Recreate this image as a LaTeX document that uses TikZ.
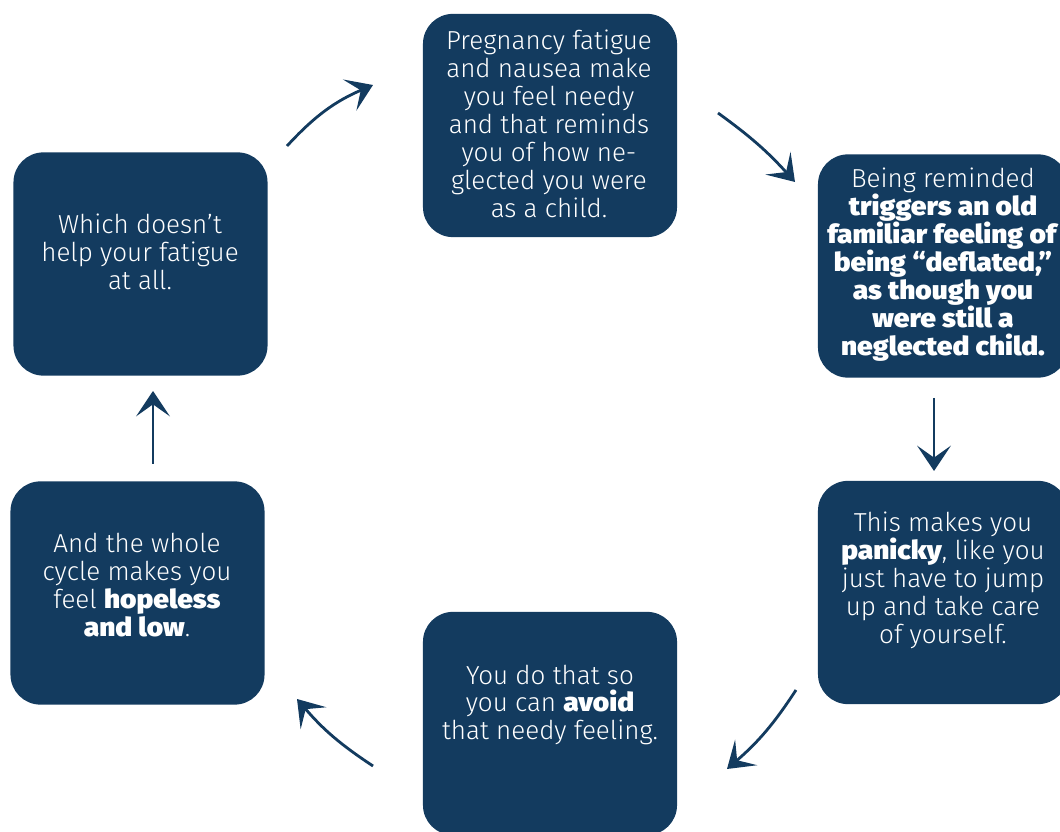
\documentclass[tikz,border=0pt]{standalone}
\usepackage{fontspec}
\setmainfont{Fira Sans}[UprightFont=* Light, BoldFont=* Black,
  BoldFeatures={FakeStretch=1.08}]
\usepackage{xcolor}
\usetikzlibrary{arrows.meta, positioning}

\definecolor{navy}{RGB}{19,59,95}

\begin{document}
\begin{tikzpicture}[
  x=0.025cm, y=-0.025cm,
  card/.style={rectangle, rounded corners=0.75cm, fill=navy,
    minimum width=6.35cm, minimum height=5.58cm, inner sep=0pt},
  txt/.style={align=center, text=white, inner sep=0pt,
    font=\fontsize{18.5}{19.9}\selectfont},
  cyc/.style={-{Stealth[length=18pt, width=24pt, inset=8.5pt]},
    line width=2pt, navy},
]
\useasboundingbox (0,0) rectangle (1060,832);
\clip (0,0) rectangle (1060,832);

% Boxes
\node[card] (top) at (550,125.5) {};
\node[card, minimum width=6.25cm] (rt) at (943,266) {};
\node[card, minimum width=6.25cm] (rb) at (943,592.5) {};
\node[card] (bot) at (550,723.5) {};
\node[card] (lb) at (137.5,593) {};
\node[card] (lt) at (140.5,264) {};

% Texts
\node[txt] (toptxt) at (549,124) {Pregnancy fatigue\\and nausea make\\you feel needy\\and that reminds\\you of how ne-\\glected you were\\as a child.};
\node[txt] (rttxt) at (943,265) {Being reminded\\\textbf{triggers an old}\\\textbf{familiar feeling of}\\\textbf{being “deflated,”}\\\textbf{as though you}\\\textbf{were still a}\\\textbf{neglected child.}};
\node[txt] (rbtxt) at (943,580) {This makes you\\\textbf{panicky}, like you\\just have to jump\\up and take care\\of yourself.};
\node[txt] (bottxt) at (550,705) {You do that so\\you can \textbf{avoid}\\that needy feeling.};
\node[txt] (lbtxt) at (137,585) {And the whole\\cycle makes you\\feel \textbf{hopeless}\\\textbf{and low}.};
\node[txt] (lttxt) at (140,252) {Which doesn’t\\help your fatigue\\at all.};

% Arrow ends
\coordinate (a1s) at (287,146);  \coordinate (a1e) at (373,85);
\coordinate (a2s) at (718,113);  \coordinate (a2e) at (795,182);
\coordinate (a3s) at (934,398);  \coordinate (a3e) at (934,471);
\coordinate (a4s) at (796,690);  \coordinate (a4e) at (727,769);
\coordinate (a5s) at (373,766);  \coordinate (a5e) at (297,699);
\coordinate (a6s) at (153,464);  \coordinate (a6e) at (153,391);

% Arrows
\draw[cyc] (a1s) to[bend left=12] (a1e);
\draw[cyc] (a2s) to[bend left=6] (a2e);
\draw[cyc] (a3s) -- (a3e);
\draw[cyc] (a4s) to[bend left=8] (a4e);
\draw[cyc] (a5s) to[bend left=8] (a5e);
\draw[cyc] (a6s) -- (a6e);

\end{tikzpicture}
\end{document}
